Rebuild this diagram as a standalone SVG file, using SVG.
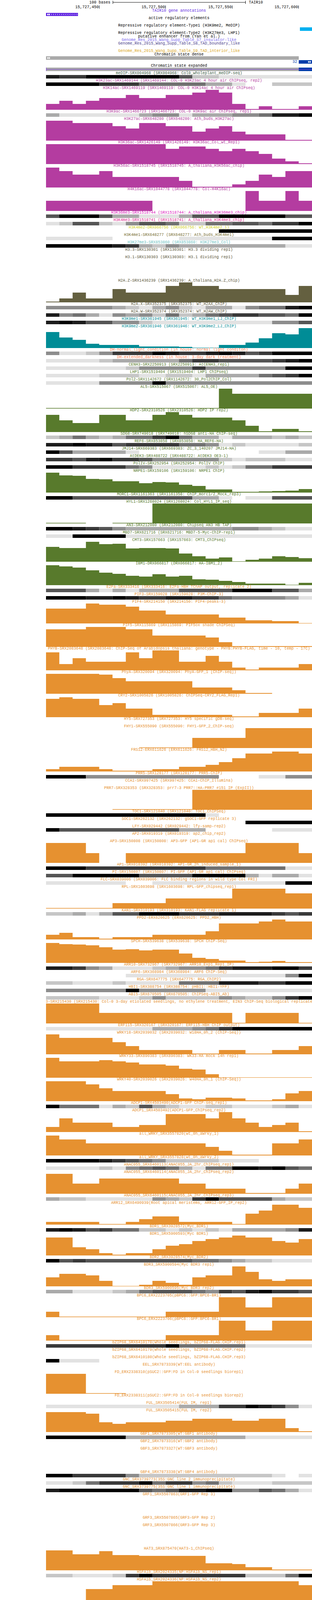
<svg xmlns="http://www.w3.org/2000/svg" width="800" height="5645" viewBox="0 0 800 5645">
<style>
text{font-family:"Liberation Mono","DejaVu Sans Mono",monospace;font-size:10px;text-anchor:middle}
.a1{fill:#e2e2e2}.a2{fill:#c6c6c6}.a3{fill:#aaa}.a4{fill:#8d8d8d}.a5{fill:#717171}.a6{fill:#555}.a7{fill:#393939}.a8{fill:#1c1c1c}.a9{fill:#000}
.k{fill:#000}.cmd{fill:#3d5c45}.cmag{fill:#b43ca0}.cp1{fill:#dc1ebe}.cp2{fill:#dc2890}.cyl{fill:#d2d21e}.cbr{fill:#786e32}.ctl{fill:#6ec3c3}.col{fill:#5a5538}.fol{fill:#646040}.cte{fill:#008c96}.cco{fill:#ff7f50}.cgr{fill:#587a2c}.cor{fill:#e69130}
.gene{fill:#5c1fe0}.blu{fill:#003caa}.wl{fill:none;stroke:#fff;stroke-width:1}.wf{fill:#fff}
</style>
<defs><clipPath id="dataclip"><rect x="118" y="0" width="682" height="5645"/></clipPath></defs>
<rect x="0" y="0" width="800" height="5645" fill="#fff"/>

<g id="ruler">
<text x="283" y="9" style="text-anchor:end" class="k">100 bases</text>
<path d="M289 6H629M289.5 2V10M629.5 2V10" stroke="#000" stroke-width="1" fill="none"/>
<text x="638" y="9" style="text-anchor:start" class="k">TAIR10</text>
<text x="253" y="21" style="text-anchor:end" class="k">15,727,450</text>
<text x="423" y="21" style="text-anchor:end" class="k">15,727,500</text>
<text x="594" y="21" style="text-anchor:end" class="k">15,727,550</text>
<text x="764" y="21" style="text-anchor:end" class="k">15,727,600</text>
<path d="M254.5 14V22M424.5 14V22M595.5 14V22M765.5 14V22" stroke="#000" stroke-width="1"/>
</g>

<g id="gene-annotations">
<text x="459" y="29.5" class="gene">TAIR10 gene annotations</text>
<rect x="118" y="33" width="82" height="8" class="gene"/>
<path class="wf" d="M124 34L120 37L124 40ZM128 34L124 37L128 40Z"/>
<path class="wl" d="M131 35l2 2l-2 2M136 35l2 2l-2 2M141 35l2 2l-2 2M146 35l2 2l-2 2M151 35l2 2l-2 2M156 35l2 2l-2 2M161 35l2 2l-2 2M166 35l2 2l-2 2M171 35l2 2l-2 2M176 35l2 2l-2 2M181 35l2 2l-2 2M186 35l2 2l-2 2M191 35l2 2l-2 2M196 35l2 2l-2 2"/>
</g>

<g id="regulatory-elements">
<text x="459" y="48.5" class="k">active regulatory elements</text>
<text x="459" y="67.5" class="k">Repressive regulatory element-Type1 (H3K9me2, MeDIP)</text>
<rect x="769" y="70" width="31" height="9" fill="#00b0f0"/>
<text x="459" y="86.5" class="k">Repressive regulatory element-Type2 (H3K27me3, LHP1)</text>
<text x="459" y="95.5" class="k">putative enhancer from (Yan et al.)</text>
<text x="459" y="104.5" fill="#7b68ee">Genome_Res_2015_Wang_Supp_Table_S7_insulator-like</text>
<text x="459" y="113.5" fill="#483d8b">Genome_Res_2015_Wang_Supp_Table_S8_TAD_boundary_like</text>
<text x="459" y="132.5" fill="#daa520">Genome_Res_2015_Wang_Supp_Table_S9_TAD_interior_like</text>
</g>

<g id="chromatin-state">
<text x="459" y="141.5" class="k">Chromatin state dense</text>
<rect x="118" y="144" width="648" height="9" fill="#aaa"/>
<path class="wf" d="M124 145.5L120 148.5L124 151.5ZM128 145.5L124 148.5L128 151.5Z"/>
<text x="762" y="161" style="text-anchor:end" class="blu">32</text>
<rect x="766" y="154" width="34" height="9" class="blu"/>
<path class="wf" d="M790 155.5L794 158.5L790 161.5ZM794 155.5L798 158.5L794 161.5Z"/>
<text x="459" y="170.5" class="k">Chromatin state expanded</text>
<rect x="118" y="173" width="648" height="9" fill="#aaa"/>
<rect x="766" y="173" width="34" height="9" class="blu"/>
<path d="M118 177.5H800M118.5 173V182" stroke="#7a3cd6" stroke-width="1"/>
</g>

<g id="t001"><text x="459" y="189.5" class="cmd">meDIP-SRX004968 (SRX004968: Col0_wholeplant_meDIP-seq)</text><g transform="translate(118,192) scale(34.1,1)"><rect x="0" width="1" height="9" class="a8"/><rect x="1" width="2" height="9" class="a7"/><rect x="3" width="7" height="9" class="a9"/><rect x="10" width="1" height="9" class="a6"/><rect x="11" width="2" height="9" class="a2"/><rect x="13" width="7" height="9" class="a1"/></g></g>
<g id="t002"><text x="459" y="208.5" class="cmag">H3K23ac-SRX1469144 (SRX1469144: COL-0 H3K23ac 4 hour air ChIPseq, rep2)</text><g transform="translate(118,211) scale(34.1,1)"><rect x="0" width="4" height="9" class="a9"/><rect x="4" width="3" height="9" class="a7"/><rect x="7" width="5" height="9" class="a5"/><rect x="12" width="2" height="9" class="a3"/><rect x="14" width="1" height="9" class="a1"/><rect x="17" width="3" height="9" class="a2"/></g></g>
<g id="t003"><text x="459" y="227.5" class="cmag">H3K14ac-SRX1469119 (SRX1469119: COL-0 H3K14ac 4 hour air ChIPseq)</text><path class="cmag" transform="translate(118,230) scale(34.1,1)" d="M0 51V36H1V28H2V36H3V28H4V21H6V13H7V21H9V13H11V7H12V0H13V7H14V36H15V49H16V42H17V49H19V42H20V51Z"/></g>
<g id="t004"><text x="459" y="287.5" class="cmag">H3K9ac-SRX1466723 (SRX1466723: COL-0 H3K9ac air ChIPseq, rep1)</text><g transform="translate(118,290) scale(34.1,1)"><rect x="0" width="1" height="9" class="a3"/><rect x="1" width="6" height="9" class="a1"/><rect x="7" width="1" height="9" class="a3"/><rect x="8" width="2" height="9" class="a4"/><rect x="10" width="1" height="9" class="a1"/><rect x="11" width="3" height="9" class="a3"/><rect x="14" width="2" height="9" class="a4"/><rect x="16" width="1" height="9" class="a5"/><rect x="17" width="2" height="9" class="a8"/><rect x="19" width="1" height="9" class="a9"/></g></g>
<g id="t005"><text x="459" y="306.5" class="cmag">H3K27ac-SRX648280 (SRX648280: Ath_buds_H3K27ac)</text><path class="cmag" transform="translate(118,309) scale(34.1,1)" d="M0 51V0H2V6H5V14H6V20H7V6H9V14H11V28H12V20H13V14H14V28H15V35H18V49H20V51Z"/></g>
<g id="t006"><text x="459" y="366.5" class="cmag">H3K36ac-SRX1426149 (SRX1426149: H3K36ac_Col_wt_Rep1)</text><path class="cmag" transform="translate(118,369) scale(34.1,1)" d="M0 51V0H9V12H10V6H12V12H13V18H14V12H15V18H16V25H17V37H18V44H19V49H20V51Z"/></g>
<g id="t007"><text x="459" y="426.5" class="cmag">H3K56ac-SRX1518745 (SRX1518745: A_thaliana_H3K56ac_chip)</text><path class="cmag" transform="translate(118,429) scale(34.1,1)" d="M0 51V0H1V9H2V18H4V9H5V24H10V34H11V49H14V43H15V34H16V18H17V24H18V9H20V51Z"/></g>
<g id="t008"><text x="459" y="486.5" class="cmag">H4K16ac-SRX1044778 (SRX1044778: Col-H4K16ac)</text><path class="cmag" transform="translate(118,489) scale(34.1,1)" d="M0 51V25H8V51H15V0H16V25H18V0H19V25H20V51Z"/></g>
<g id="t009"><text x="459" y="546.5" class="cp1">H3K36me3-SRX1518744 (SRX1518744: A_thaliana_H3K36me3_chip)</text><g transform="translate(118,549) scale(34.1,1)"><rect x="0" width="1" height="9" class="a6"/><rect x="1" width="3" height="9" class="a9"/><rect x="4" width="1" height="9" class="a6"/><rect x="5" width="2" height="9" class="a3"/><rect x="7" width="3" height="9" class="a1"/><rect x="10" width="1" height="9" class="a3"/><rect x="11" width="2" height="9" class="a6"/><rect x="13" width="5" height="9" class="a9"/><rect x="18" width="2" height="9" class="a6"/></g></g>
<g id="t010"><text x="459" y="565.5" class="cp2">H3K4me3-SRX1518741 (SRX1518741: A_thaliana_H3K4me3_chip)</text><g transform="translate(118,568) scale(34.1,1)"><rect x="0" width="1" height="9" class="a1"/><rect x="1" width="1" height="9" class="a2"/><rect x="2" width="2" height="9" class="a6"/><rect x="4" width="1" height="9" class="a2"/><rect x="5" width="1" height="9" class="a1"/><rect x="6" width="1" height="9" class="a4"/><rect x="7" width="2" height="9" class="a6"/><rect x="9" width="1" height="9" class="a5"/><rect x="10" width="2" height="9" class="a2"/><rect x="12" width="2" height="9" class="a5"/><rect x="14" width="2" height="9" class="a6"/><rect x="16" width="1" height="9" class="a5"/><rect x="17" width="2" height="9" class="a7"/><rect x="19" width="1" height="9" class="a9"/></g></g>
<g id="t011"><text x="459" y="584.5" class="cyl">H3K4me2-DRX066756 (DRX066756: WT_H3K4me2_1)</text><g transform="translate(118,587) scale(34.1,1)"><rect x="13" width="7" height="9" class="a9"/></g></g>
<g id="t012"><text x="459" y="603.5" class="cbr">H3K4me1-SRX648277 (SRX648277: Ath_buds_H3K4me1)</text><g transform="translate(118,606) scale(34.1,1)"><rect x="0" width="5" height="9" class="a1"/><rect x="10" width="7" height="9" class="a1"/><rect x="17" width="3" height="9" class="a9"/></g></g>
<g id="t013"><text x="459" y="622.5" class="ctl">H3K27me3-SRX853860 (SRX853860: H3K27me3_Col)</text><g transform="translate(118,625) scale(34.1,1)"><rect x="0" width="5" height="9" class="a9"/><rect x="5" width="1" height="9" class="a8"/><rect x="6" width="1" height="9" class="a7"/><rect x="7" width="1" height="9" class="a3"/><rect x="8" width="1" height="9" class="a2"/><rect x="9" width="1" height="9" class="a4"/><rect x="10" width="8" height="9" class="a3"/><rect x="18" width="2" height="9" class="a1"/></g></g>
<g id="t014"><text x="459" y="641.5" class="col">H3.3-SRX130301 (SRX130301: H3.3 dividing rep1)</text></g>
<g id="t015"><text x="459" y="660.5" class="col">H3.1-SRX130303 (SRX130303: H3.1 dividing rep1)</text></g>
<g id="t016"><text x="459" y="720.5" class="col">H2A.Z-SRX1436239 (SRX1436239: A_thaliana_H2A.Z_chip)</text><path class="fol" transform="translate(118,723) scale(34.1,1)" d="M0 51V49H1V41H2V26H3V41H5V17H6V26H9V9H10V0H11V9H13V17H18V32H19V9H20V51Z"/></g>
<g id="t017"><text x="459" y="780.5" class="col">H2A.X-SRX352375 (SRX352375: WT_H2AX_ChIP)</text><g transform="translate(118,783) scale(34.1,1)"><rect x="0" width="5" height="9" class="a4"/><rect x="5" width="1" height="9" class="a3"/><rect x="6" width="1" height="9" class="a2"/><rect x="7" width="1" height="9" class="a1"/><rect x="8" width="1" height="9" class="a3"/><rect x="9" width="1" height="9" class="a4"/><rect x="10" width="1" height="9" class="a2"/><rect x="11" width="1" height="9" class="a1"/><rect x="12" width="2" height="9" class="a3"/><rect x="14" width="1" height="9" class="a1"/><rect x="15" width="1" height="9" class="a4"/><rect x="16" width="2" height="9" class="a5"/><rect x="18" width="1" height="9" class="a8"/><rect x="19" width="1" height="9" class="a9"/></g></g>
<g id="t018"><text x="459" y="799.5" class="col">H2A.W-SRX352374 (SRX352374: WT_H2AW_ChIP)</text><g transform="translate(118,802) scale(34.1,1)"><rect x="0" width="1" height="9" class="a8"/><rect x="1" width="1" height="9" class="a4"/><rect x="2" width="1" height="9" class="a5"/><rect x="3" width="1" height="9" class="a3"/><rect x="4" width="1" height="9" class="a1"/><rect x="5" width="1" height="9" class="a4"/><rect x="6" width="1" height="9" class="a3"/><rect x="7" width="1" height="9" class="a4"/><rect x="8" width="1" height="9" class="a2"/><rect x="9" width="1" height="9" class="a5"/><rect x="10" width="1" height="9" class="a2"/><rect x="11" width="1" height="9" class="a3"/><rect x="12" width="1" height="9" class="a5"/><rect x="13" width="1" height="9" class="a6"/><rect x="14" width="2" height="9" class="a7"/><rect x="16" width="2" height="9" class="a6"/><rect x="18" width="1" height="9" class="a5"/><rect x="19" width="1" height="9" class="a9"/></g></g>
<g id="t019"><text x="459" y="818.5" class="cte">H3K9me1-SRX361945 (SRX361945: WT_H3K9me1_LJ_ChIP)</text><g transform="translate(118,821) scale(34.1,1)"><rect x="0" width="1" height="9" class="a8"/><rect x="1" width="1" height="9" class="a9"/><rect x="2" width="1" height="9" class="a8"/><rect x="3" width="2" height="9" class="a6"/><rect x="5" width="2" height="9" class="a4"/><rect x="7" width="1" height="9" class="a2"/><rect x="8" width="9" height="9" class="a1"/><rect x="17" width="2" height="9" class="a4"/><rect x="19" width="1" height="9" class="a6"/></g></g>
<g id="t020"><text x="459" y="837.5" class="cte">H3K9me2-SRX361946 (SRX361946: WT_H3K9me2_LJ_ChIP)</text><path class="cte" transform="translate(118,840) scale(34.1,1)" d="M0 51V10H1V24H2V30H3V40H4V43H7V47H10V48H11V50H13V43H15V37H16V26H17V13H18V16H19V0H20V51Z"/></g>
<g id="t021"><text x="459" y="897.5" class="cco">DH-normal_light_condition (in house: normal light conditon)</text><g transform="translate(118,900) scale(34.1,1)"><rect x="0" width="1" height="9" class="a4"/><rect x="1" width="2" height="9" class="a1"/><rect x="3" width="1" height="9" class="a2"/><rect x="4" width="1" height="9" class="a4"/><rect x="5" width="3" height="9" class="a7"/><rect x="8" width="1" height="9" class="a9"/><rect x="9" width="1" height="9" class="a8"/><rect x="10" width="2" height="9" class="a7"/><rect x="12" width="1" height="9" class="a8"/><rect x="13" width="1" height="9" class="a9"/><rect x="14" width="1" height="9" class="a8"/><rect x="15" width="1" height="9" class="a6"/><rect x="16" width="1" height="9" class="a7"/><rect x="17" width="3" height="9" class="a9"/></g></g>
<g id="t022"><text x="459" y="916.5" class="cco">DH-extended_darkness (in house: 3-day dark treatment)</text><g transform="translate(118,919) scale(34.1,1)"><rect x="0" width="4" height="9" class="a1"/><rect x="4" width="1" height="9" class="a2"/><rect x="5" width="5" height="9" class="a3"/><rect x="10" width="1" height="9" class="a5"/><rect x="11" width="2" height="9" class="a7"/><rect x="13" width="4" height="9" class="a6"/><rect x="17" width="1" height="9" class="a7"/><rect x="18" width="1" height="9" class="a8"/><rect x="19" width="1" height="9" class="a9"/></g></g>
<g id="t023"><text x="459" y="935.5" class="cgr">CENH3-SRX2250913 (SRX2250913: AtCENH3_rep1)</text><g transform="translate(118,938) scale(34.1,1)"><rect x="0" width="6" height="9" class="a1"/><rect x="6" width="1" height="9" class="a2"/><rect x="7" width="4" height="9" class="a4"/><rect x="11" width="1" height="9" class="a7"/><rect x="12" width="6" height="9" class="a4"/><rect x="18" width="2" height="9" class="a9"/></g></g>
<g id="t024"><text x="459" y="954.5" class="cgr">LHP1-SRX1519404 (SRX1519404: LHP1 ChIPseq)</text><g transform="translate(118,957) scale(34.1,1)"><rect x="0" width="4" height="9" class="a1"/><rect x="4" width="3" height="9" class="a2"/><rect x="7" width="2" height="9" class="a1"/><rect x="9" width="2" height="9" class="a2"/><rect x="11" width="1" height="9" class="a1"/><rect x="12" width="4" height="9" class="a3"/><rect x="16" width="1" height="9" class="a5"/><rect x="17" width="1" height="9" class="a6"/><rect x="18" width="1" height="9" class="a7"/><rect x="19" width="1" height="9" class="a9"/></g></g>
<g id="t025"><text x="459" y="973.5" class="cgr">Pol2-SRX1142672 (SRX1142672: 30_Pol2ChIP_Col)</text><g transform="translate(118,976) scale(34.1,1)"><rect x="0" width="4" height="9" class="a1"/><rect x="4" width="4" height="9" class="a4"/><rect x="8" width="1" height="9" class="a9"/><rect x="9" width="11" height="9" class="a4"/></g></g>
<g id="t026"><text x="459" y="992.5" class="cgr">AL5-SRX515067 (SRX515067: AL5_OE)</text><path class="cgr" transform="translate(118,995) scale(34.1,1)" d="M0 51V49.5H13V0H14V13H20V51Z"/></g>
<g id="t027"><text x="459" y="1052.5" class="cgr">HDP2-SRX2310526 (SRX2310526: HDP2 IP rep2)</text><path class="cgr" transform="translate(118,1055) scale(34.1,1)" d="M0 51V7H1V21H2V28H4V7H6V21H8V7H9V0H10V7H11V14H14V21H15V35H16V49H17V43H19V49H20V51Z"/></g>
<g id="t028"><text x="459" y="1112.5" class="cgr">SDG8-SRX749018 (SRX749018: hSDG8 anti-HA ChIP-seq)</text><g transform="translate(118,1115) scale(34.1,1)"><rect x="0" width="1" height="9" class="a2"/><rect x="1" width="1" height="9" class="a3"/><rect x="2" width="1" height="9" class="a5"/><rect x="3" width="1" height="9" class="a3"/><rect x="4" width="1" height="9" class="a2"/><rect x="5" width="1" height="9" class="a3"/><rect x="6" width="2" height="9" class="a5"/><rect x="8" width="1" height="9" class="a7"/><rect x="9" width="1" height="9" class="a9"/><rect x="10" width="1" height="9" class="a5"/><rect x="11" width="2" height="9" class="a3"/><rect x="13" width="1" height="9" class="a1"/><rect x="14" width="3" height="9" class="a3"/><rect x="17" width="1" height="9" class="a2"/><rect x="18" width="1" height="9" class="a3"/><rect x="19" width="1" height="9" class="a2"/></g></g>
<g id="t029"><text x="459" y="1131.5" class="cgr">REF6-SRX853858 (SRX853858: HA_REF6-HA)</text><g transform="translate(118,1134) scale(34.1,1)"><rect x="0" width="2" height="9" class="a8"/><rect x="2" width="1" height="9" class="a9"/><rect x="3" width="2" height="9" class="a8"/><rect x="5" width="1" height="9" class="a6"/><rect x="6" width="4" height="9" class="a7"/><rect x="10" width="2" height="9" class="a5"/><rect x="12" width="1" height="9" class="a4"/><rect x="13" width="1" height="9" class="a1"/><rect x="14" width="1" height="9" class="a2"/><rect x="15" width="4" height="9" class="a1"/><rect x="19" width="1" height="9" class="a2"/></g></g>
<g id="t030"><text x="459" y="1150.5" class="cgr">JMJ14-SRX669383 (SRX669383: ZC_3_140207 JMJ14-HA)</text><g transform="translate(118,1153) scale(34.1,1)"><rect x="0" width="1" height="9" class="a9"/><rect x="1" width="1" height="9" class="a6"/><rect x="2" width="4" height="9" class="a3"/><rect x="6" width="1" height="9" class="a1"/><rect x="16" width="2" height="9" class="a1"/><rect x="18" width="2" height="9" class="a3"/></g></g>
<g id="t031"><text x="459" y="1169.5" class="cgr">AtDEK3-SRX488722 (SRX488722: AtDEK3 OE3-1)</text><g transform="translate(118,1172) scale(34.1,1)"><rect x="0" width="2" height="9" class="a7"/><rect x="2" width="1" height="9" class="a6"/><rect x="3" width="1" height="9" class="a8"/><rect x="4" width="1" height="9" class="a9"/><rect x="5" width="2" height="9" class="a7"/><rect x="7" width="1" height="9" class="a6"/><rect x="8" width="5" height="9" class="a4"/><rect x="13" width="1" height="9" class="a2"/><rect x="14" width="1" height="9" class="a1"/><rect x="15" width="3" height="9" class="a2"/><rect x="18" width="2" height="9" class="a1"/></g></g>
<g id="t032"><text x="459" y="1188.5" class="cgr">PolIV-SRX252954 (SRX252954: PolIV ChIP)</text><g transform="translate(118,1191) scale(34.1,1)"><rect x="0" width="2" height="9" class="a9"/><rect x="2" width="4" height="9" class="a7"/><rect x="6" width="1" height="9" class="a5"/><rect x="7" width="1" height="9" class="a4"/><rect x="8" width="4" height="9" class="a1"/><rect x="12" width="1" height="9" class="a2"/><rect x="13" width="1" height="9" class="a1"/><rect x="14" width="1" height="9" class="a2"/><rect x="15" width="2" height="9" class="a5"/><rect x="17" width="3" height="9" class="a7"/></g></g>
<g id="t033"><text x="459" y="1207.5" class="cgr">NRPE1-SRX159106 (SRX159106: NRPE1 ChIP)</text><path class="cgr" transform="translate(118,1210) scale(34.1,1)" d="M0 51V0H1V7H2V8H3V16H4V17H5V22H7V27H8V24H9V25H10V31H11V34H12V43H14V49H16V48H17V47H18V46H19V42H20V51Z"/></g>
<g id="t034"><text x="459" y="1267.5" class="cgr">MORC1-SRX1161363 (SRX1161358: ChIP_morc1/2_Mock_rep3)</text><g transform="translate(118,1270) scale(34.1,1)"><rect x="0" width="2" height="9" class="a9"/><rect x="2" width="9" height="9" class="a6"/><rect x="11" width="2" height="9" class="a3"/><rect x="13" width="1" height="9" class="a1"/><rect x="15" width="2" height="9" class="a1"/><rect x="17" width="3" height="9" class="a6"/></g></g>
<g id="t035"><text x="459" y="1286.5" class="cgr">HYL1-SRX1268024 (SRX1268024: Col_HYL1_IP_seq)</text><path class="cgr" transform="translate(118,1289) scale(34.1,1)" d="M0 51V49.5H3V51H5V49.5H8V0H20V51Z"/></g>
<g id="t036"><text x="459" y="1346.5" class="cgr">AN3-SRX212080 (SRX212080: Chipseq AN3 HB TAP)</text><g transform="translate(118,1349) scale(34.1,1)"><rect x="0" width="2" height="9" class="a9"/><rect x="2" width="1" height="9" class="a8"/><rect x="3" width="1" height="9" class="a7"/><rect x="4" width="1" height="9" class="a6"/><rect x="5" width="1" height="9" class="a4"/><rect x="6" width="8" height="9" class="a3"/><rect x="14" width="2" height="9" class="a4"/><rect x="16" width="1" height="9" class="a3"/><rect x="17" width="1" height="9" class="a2"/><rect x="18" width="2" height="9" class="a1"/></g></g>
<g id="t037"><text x="459" y="1365.5" class="cgr">MBD7-SRX621716 (SRX621716: MBD7-5-Myc-ChIP-rep1)</text><g transform="translate(118,1368) scale(34.1,1)"><rect x="0" width="2" height="9" class="a1"/><rect x="2" width="4" height="9" class="a9"/><rect x="6" width="14" height="9" class="a1"/></g></g>
<g id="t038"><text x="459" y="1384.5" class="cgr">CMT3-SRX157663 (SRX157663: CMT3_ChIPseq)</text><path class="cgr" transform="translate(118,1387) scale(34.1,1)" d="M0 51V13H1V16H3V0H4V6H5V5H6V17H7V16H9V17H10V30H11V37H12V43H13V40H14V50H15V46H16V43H17V37H18V39H19V42H20V51Z"/></g>
<g id="t039"><text x="459" y="1444.5" class="cgr">IBM1-DRX066817 (DRX066817: HA-IBM1_2)</text><path class="cgr" transform="translate(118,1447) scale(34.1,1)" d="M0 51V0H1V3H2V6H3V13H4V19H5V22H6V27H7V29H8V23H9V29H10V27H11V36H12V37H13V40H14V43H15V47H18V50H19V45H20V51Z"/></g>
<g id="t040"><text x="459" y="1504.5" class="cor">E2Fa-SRX333416 (SRX333416: E2Fa-HBH TChAP output, replicate 2)</text><g transform="translate(118,1507) scale(34.1,1)"><rect x="0" width="3" height="9" class="a6"/><rect x="3" width="1" height="9" class="a3"/><rect x="4" width="1" height="9" class="a1"/><rect x="5" width="1" height="9" class="a3"/><rect x="6" width="1" height="9" class="a1"/><rect x="7" width="3" height="9" class="a3"/><rect x="10" width="4" height="9" class="a6"/><rect x="14" width="3" height="9" class="a9"/><rect x="17" width="2" height="9" class="a6"/><rect x="19" width="1" height="9" class="a3"/></g></g>
<g id="t041"><text x="459" y="1523.5" class="cor">PIF3-SRX159028 (SRX159028: P3M-ChIP-3)</text><g transform="translate(118,1526) scale(34.1,1)"><rect x="0" width="3" height="9" class="a9"/><rect x="3" width="2" height="9" class="a8"/><rect x="5" width="1" height="9" class="a9"/><rect x="6" width="1" height="9" class="a8"/><rect x="7" width="2" height="9" class="a7"/><rect x="9" width="2" height="9" class="a8"/><rect x="11" width="2" height="9" class="a7"/><rect x="13" width="1" height="9" class="a5"/><rect x="14" width="4" height="9" class="a4"/><rect x="18" width="1" height="9" class="a3"/><rect x="19" width="1" height="9" class="a1"/></g></g>
<g id="t042"><text x="459" y="1542.5" class="cor">PIF4-SRX214150 (SRX214150: PIF4-peaks-3)</text><path class="cor" transform="translate(118,1545) scale(34.1,1)" d="M0 51V13H3V0H4V3H6V8H7V18H9V28H13V36H15V43H17V45H19V50H20V51Z"/></g>
<g id="t043"><text x="459" y="1602.5" class="cor">PIF5-SRX115869 (SRX115869: PIF5ox shade ChIPSeq)</text><path class="cor" transform="translate(118,1605) scale(34.1,1)" d="M0 51V6H3V0H6V6H8V22H12V27H13V39H14V49H20V51Z"/></g>
<g id="t044"><text x="459" y="1662.5" class="cor">PHYB-SRX2083648 (SRX2083648: ChIP-Seq of Arabidopsis thaliana: genotype - PHYB:PHYB-FLAG, time - 10, temp - 17C)</text><path class="cor" transform="translate(118,1665) scale(34.1,1)" d="M0 51V5H1V35H2V20H3V29H6V5H7V20H8V0H10V29H12V14H13V29H14V44H15V49H16V44H19V35H20V51Z"/></g>
<g id="t045"><text x="459" y="1722.5" class="cor">PhyA-SRX320094 (SRX320094: PhyA-GFP_1 [ChIP-seq])</text><path class="cor" transform="translate(118,1725) scale(34.1,1)" d="M0 51V0H4V2H5V11H6V19H11V35H14V42H15V49H17V51Z"/></g>
<g id="t046"><text x="459" y="1782.5" class="cor">CRY2-SRX1005826 (SRX1005826: ChIPSeq-CRY2_FLAG_Rep1)</text><path class="cor" transform="translate(118,1785) scale(34.1,1)" d="M0 51V4H1V0H2V4H4V20H5V15H6V29H8V45H14V49H16V40H19V29H20V51Z"/></g>
<g id="t047"><text x="459" y="1842.5" class="cor">HY5-SRX727353 (SRX727353: HY5 specific gDB-seq)</text></g>
<g id="t048"><text x="459" y="1861.5" class="cor">FHY1-SRX555090 (SRX555090: FHY1-GFP_2_ChIP-seq)</text><path class="cor" transform="translate(118,1864) scale(34.1,1)" d="M0 51H7V49.5H11V25H15V0H20V51Z"/></g>
<g id="t049"><text x="459" y="1921.5" class="cor">FRS12-ERX611626 (ERX611626: FRS12_HBH_N2)</text><path class="cor" transform="translate(118,1924) scale(34.1,1)" d="M0 51V45H1V39H4V45H5V49H8V45H10V39H12V34H13V27H14V17H15V5H17V0H19V5H20V51Z"/></g>
<g id="t050"><text x="459" y="1981.5" class="cor">PRR5-SRX128177 (SRX128177: PRR5-ChIP)</text><g transform="translate(118,1984) scale(34.1,1)"><rect x="0" width="3" height="9" class="a9"/><rect x="3" width="10" height="9" class="a4"/><rect x="16" width="2" height="9" class="a1"/><rect x="18" width="2" height="9" class="a4"/></g></g>
<g id="t051"><text x="459" y="2000.5" class="cor">CCA1-SRX997425 (SRX997425: CCA1-ChIP_Illumina)</text></g>
<g id="t052"><text x="459" y="2019.5" class="cor">PRR7-SRX328353 (SRX328353: prr7-3 PRR7::HA-PRR7 #151 IP (ExpII))</text><path class="cor" transform="translate(118,2022) scale(34.1,1)" d="M0 51H5V49.5H11V0H20V51Z"/></g>
<g id="t053"><text x="459" y="2079.5" class="cor">TOC1-SRX121040 (SRX121040: TOC1_ChIPSeq)</text><g transform="translate(118,2082) scale(34.1,1)"><rect x="0" width="12" height="9" class="a9"/><rect x="12" width="1" height="9" class="a1"/></g></g>
<g id="t054"><text x="459" y="2098.5" class="cor">SOC1-SRX262132 (SRX262132: gSOC1-GFP replicate 3)</text><g transform="translate(118,2101) scale(34.1,1)"><rect x="15" width="5" height="9" class="a9"/></g></g>
<g id="t055"><text x="459" y="2117.5" class="cor">LFY-SRX029442 (SRX029442: lfy-samp-rep2)</text><g transform="translate(118,2120) scale(34.1,1)"><rect x="0" width="1" height="9" class="a9"/><rect x="1" width="9" height="9" class="a6"/><rect x="10" width="2" height="9" class="a3"/><rect x="17" width="3" height="9" class="a1"/></g></g>
<g id="t056"><text x="459" y="2136.5" class="cor">AP2-SRX019319 (SRX019319: ap2_chip_rep2)</text></g>
<g id="t057"><text x="459" y="2155.5" class="cor">AP3-SRX150808 (SRX150808: AP3-GFP (AP1-GR ap1 cal) ChIPseq)</text><path class="cor" transform="translate(118,2158) scale(34.1,1)" d="M0 51V0H3V26H4V51H6V26H15V0H19V26H20V51Z"/></g>
<g id="t058"><text x="459" y="2215.5" class="cor">AP1-SRX018392 (SRX018392: AP1-GR_2h_induced_sample_1)</text><g transform="translate(118,2218) scale(34.1,1)"><rect x="0" width="3" height="9" class="a9"/><rect x="3" width="9" height="9" class="a7"/><rect x="12" width="6" height="9" class="a5"/><rect x="18" width="2" height="9" class="a1"/></g></g>
<g id="t059"><text x="459" y="2234.5" class="cor">PI-SRX150807 (SRX150807: PI-GFP (AP1-GR ap1 cal) ChIPseq)</text><g transform="translate(118,2237) scale(34.1,1)"><rect x="0" width="2" height="9" class="a6"/><rect x="2" width="5" height="9" class="a9"/><rect x="7" width="4" height="9" class="a6"/><rect x="11" width="4" height="9" class="a9"/><rect x="15" width="1" height="9" class="a3"/><rect x="16" width="1" height="9" class="a1"/><rect x="17" width="2" height="9" class="a3"/><rect x="19" width="1" height="9" class="a1"/></g></g>
<g id="t060"><text x="459" y="2253.5" class="cor">FLC-SRX039006 (SRX039006: FLC binding regions in wild type Col FRI)</text><g transform="translate(118,2256) scale(34.1,1)"><rect x="0" width="6" height="9" class="a1"/><rect x="8" width="10" height="9" class="a1"/><rect x="18" width="2" height="9" class="a9"/></g></g>
<g id="t061"><text x="459" y="2272.5" class="cor">RPL-SRX1603698 (SRX1603698: RPL-GFP_chipseq_rep1)</text><path class="cor" transform="translate(118,2275) scale(34.1,1)" d="M0 51V49.5H5V37H9V25H14V0H18V12H20V51Z"/></g>
<g id="t062"><text x="459" y="2332.5" class="cor">KAN1-SRX310193 (SRX310193: KAN1-FLAG replicate 1)</text><g transform="translate(118,2335) scale(34.1,1)"><rect x="0" width="2" height="9" class="a2"/><rect x="2" width="1" height="9" class="a3"/><rect x="3" width="1" height="9" class="a1"/><rect x="4" width="1" height="9" class="a3"/><rect x="5" width="2" height="9" class="a6"/><rect x="7" width="3" height="9" class="a9"/><rect x="10" width="3" height="9" class="a7"/><rect x="13" width="4" height="9" class="a8"/><rect x="17" width="1" height="9" class="a7"/><rect x="18" width="1" height="9" class="a6"/><rect x="19" width="1" height="9" class="a7"/></g></g>
<g id="t063"><text x="459" y="2351.5" class="cor">PPD2-ERX620625 (ERX620625: PPD2_HBH)</text><path class="cor" transform="translate(118,2354) scale(34.1,1)" d="M0 51V39H1V34H2V45H4V49H5V45H8V39H12V30H13V10H16V5H17V0H18V5H20V51Z"/></g>
<g id="t064"><text x="459" y="2411.5" class="cor">SPCH-SRX539638 (SRX539638: SPCH ChIP-Seq)</text><path class="cor" transform="translate(118,2414) scale(34.1,1)" d="M0 51V0H1V3H2V4H3V6H4V11H5V17H6V16H7V19H8V17H10V27H11V38H12V41H13V45H15V49H16V48H17V46H18V49H20V51Z"/></g>
<g id="t065"><text x="459" y="2471.5" class="cor">ARR10-SRX732967 (SRX732967: ARR10_Exp1_Rep1_IP)</text><g transform="translate(118,2474) scale(34.1,1)"><rect x="0" width="2" height="9" class="a8"/><rect x="2" width="1" height="9" class="a7"/><rect x="3" width="1" height="9" class="a4"/><rect x="4" width="1" height="9" class="a3"/><rect x="5" width="3" height="9" class="a1"/><rect x="8" width="1" height="9" class="a2"/><rect x="9" width="1" height="9" class="a3"/><rect x="10" width="2" height="9" class="a4"/><rect x="12" width="1" height="9" class="a5"/><rect x="13" width="1" height="9" class="a7"/><rect x="14" width="3" height="9" class="a8"/><rect x="17" width="2" height="9" class="a9"/><rect x="19" width="1" height="9" class="a7"/></g></g>
<g id="t066"><text x="459" y="2490.5" class="cor">ARF6-SRX368984 (SRX368984: ARF6 ChIP-Seq)</text><g transform="translate(118,2493) scale(34.1,1)"><rect x="6" width="12" height="9" class="a1"/><rect x="18" width="1" height="9" class="a4"/><rect x="19" width="1" height="9" class="a9"/></g></g>
<g id="t067"><text x="459" y="2509.5" class="cor">RGA-SRX647775 (SRX647775: RGA_ChIP2)</text><g transform="translate(118,2512) scale(34.1,1)"><rect x="0" width="2" height="9" class="a2"/><rect x="2" width="3" height="9" class="a1"/><rect x="5" width="1" height="9" class="a2"/><rect x="6" width="4" height="9" class="a1"/><rect x="10" width="3" height="9" class="a5"/><rect x="13" width="3" height="9" class="a8"/><rect x="16" width="2" height="9" class="a7"/><rect x="18" width="2" height="9" class="a9"/></g></g>
<g id="t068"><text x="459" y="2528.5" class="cor">HBI1-SRX388754 (SRX388754: pHBI1::HBI1-YFP)</text><g transform="translate(118,2531) scale(34.1,1)"><rect x="0" width="6" height="9" class="a4"/><rect x="6" width="1" height="9" class="a9"/><rect x="7" width="5" height="9" class="a4"/><rect x="12" width="8" height="9" class="a1"/></g></g>
<g id="t069"><text x="459" y="2547.5" class="cor">ABI5-SRX670505 (SRX670505: ChIPSeq-ABI5_Ab)</text><g transform="translate(118,2550) scale(34.1,1)"><rect x="0" width="4" height="9" class="a2"/><rect x="4" width="3" height="9" class="a1"/><rect x="7" width="1" height="9" class="a2"/><rect x="8" width="1" height="9" class="a4"/><rect x="9" width="4" height="9" class="a2"/><rect x="13" width="1" height="9" class="a4"/><rect x="14" width="1" height="9" class="a3"/><rect x="15" width="2" height="9" class="a2"/><rect x="17" width="1" height="9" class="a4"/><rect x="18" width="1" height="9" class="a7"/><rect x="19" width="1" height="9" class="a9"/></g></g>
<g id="t070"><text x="459" y="2566.5" class="cor" clip-path="url(#dataclip)">EIN3-SRX215430 (SRX215430: Col-0 3-day etiolated seedlings, no ethylene treatment, EIN3 ChIP-Seq biological replicate 1)</text><path class="cor" transform="translate(118,2569) scale(34.1,1)" d="M0 51V0H4V24H14V49.5H15V24H19V49.5H20V51Z"/></g>
<g id="t071"><text x="459" y="2626.5" class="cor">ERF115-SRX320167 (SRX320167: ERF115-HBH ChIP output)</text><g transform="translate(118,2629) scale(34.1,1)"><rect x="0" width="8" height="9" class="a1"/><rect x="8" width="3" height="9" class="a3"/><rect x="11" width="1" height="9" class="a4"/><rect x="12" width="1" height="9" class="a5"/><rect x="13" width="1" height="9" class="a7"/><rect x="14" width="6" height="9" class="a9"/></g></g>
<g id="t072"><text x="459" y="2645.5" class="cor">WRKY18-SRX2039032 (SRX2039032: W18HA_0h_2 (ChIP-Seq))</text><path class="cor" transform="translate(118,2648) scale(34.1,1)" d="M0 51V0H1V9H5V20H6V30H7V40H11V49H13V40H15V49H17V40H19V30H20V51Z"/></g>
<g id="t073"><text x="459" y="2705.5" class="cor">WRKY33-SRX890383 (SRX890383: WK33-HA mock 14h rep1)</text><path class="cor" transform="translate(118,2708) scale(34.1,1)" d="M0 51V0H1V9H4V6H5V9H6V12H7V17H9V20H10V28H11V30H12V42H13V50H20V51Z"/></g>
<g id="t074"><text x="459" y="2765.5" class="cor">WRKY40-SRX2039026 (SRX2039026: W40HA_0h_1 (ChIP-Seq))</text><path class="cor" transform="translate(118,2768) scale(34.1,1)" d="M0 51V0H3V8H4V18H5V25H9V33H10V44H11V46H12V42H14V44H15V49H17V46H18V31H19V25H20V51Z"/></g>
<g id="t075"><text x="459" y="2825.5" class="cor">ADCP1-SRX4503490(ADCP1-GFP ChIP-seq_rep1)</text><g transform="translate(118,2828) scale(34.1,1)"><rect x="0" width="1" height="9" class="a9"/><rect x="1" width="3" height="9" class="a5"/><rect x="4" width="1" height="9" class="a1"/><rect x="5" width="1" height="9" class="a3"/><rect x="6" width="1" height="9" class="a2"/><rect x="7" width="1" height="9" class="a6"/><rect x="8" width="1" height="9" class="a3"/><rect x="9" width="1" height="9" class="a2"/><rect x="10" width="2" height="9" class="a1"/><rect x="12" width="2" height="9" class="a2"/><rect x="14" width="3" height="9" class="a1"/><rect x="17" width="1" height="9" class="a2"/><rect x="18" width="1" height="9" class="a3"/><rect x="19" width="1" height="9" class="a1"/></g></g>
<g id="t076"><text x="459" y="2844.5" class="cor">ADCP1_SRX4503492(ADCP1-GFP_ChIPseq_rep2)</text><path class="cor" transform="translate(118,2847) scale(34.1,1)" d="M0 51V38H1V16H2V27H5V38H7V33H9V5H12V16H13V0H14V16H15V27H16V38H17V33H18V27H19V49H20V51Z"/></g>
<g id="t077"><text x="459" y="2904.5" class="cor">all_WRKY_SRX3557820(wt_0h_aWrky_1)</text><path class="cor" transform="translate(118,2907) scale(34.1,1)" d="M0 51V0H1V10H3V20H12V29H13V39H14V49H17V20H19V10H20V51Z"/></g>
<g id="t078"><text x="459" y="2964.5" class="cor">all_WRKY_SRX3557828(wt_0h_aWrky_2)</text><g transform="translate(118,2967) scale(34.1,1)"><rect x="0" width="4" height="9" class="a9"/><rect x="4" width="1" height="9" class="a8"/><rect x="5" width="1" height="9" class="a7"/><rect x="6" width="1" height="9" class="a6"/><rect x="7" width="1" height="9" class="a5"/><rect x="8" width="1" height="9" class="a4"/><rect x="9" width="4" height="9" class="a2"/><rect x="13" width="3" height="9" class="a1"/></g></g>
<g id="t079"><text x="459" y="2983.5" class="cor">ANAC055_SRX6460113(ANAC055_JA_2hr_ChIPseq_rep1)</text><g transform="translate(118,2986) scale(34.1,1)"><rect x="0" width="4" height="9" class="a1"/><rect x="4" width="1" height="9" class="a2"/><rect x="5" width="1" height="9" class="a1"/><rect x="6" width="1" height="9" class="a4"/><rect x="7" width="1" height="9" class="a5"/><rect x="8" width="1" height="9" class="a6"/><rect x="9" width="1" height="9" class="a5"/><rect x="10" width="1" height="9" class="a3"/><rect x="11" width="1" height="9" class="a1"/><rect x="12" width="2" height="9" class="a5"/><rect x="14" width="2" height="9" class="a9"/><rect x="16" width="1" height="9" class="a8"/><rect x="17" width="1" height="9" class="a9"/><rect x="18" width="1" height="9" class="a6"/><rect x="19" width="1" height="9" class="a5"/></g></g>
<g id="t080"><text x="459" y="3002.5" class="cor">ANAC055_SRX6460114(ANAC055_JA_2hr_ChIPseq_rep2)</text><path class="cor" transform="translate(118,3005) scale(34.1,1)" d="M0 51V0H2V25H4V12H10V25H12V38H15V49H18V38H19V25H20V51Z"/></g>
<g id="t081"><text x="459" y="3062.5" class="cor">ANAC055_SRX6460115(ANAC055_JA_2hr_ChIPseq_rep3)</text><g transform="translate(118,3065) scale(34.1,1)"><rect x="0" width="1" height="9" class="a3"/><rect x="1" width="2" height="9" class="a2"/><rect x="3" width="5" height="9" class="a1"/><rect x="8" width="1" height="9" class="a4"/><rect x="9" width="1" height="9" class="a3"/><rect x="10" width="1" height="9" class="a2"/><rect x="11" width="1" height="9" class="a7"/><rect x="12" width="1" height="9" class="a9"/><rect x="13" width="4" height="9" class="a6"/><rect x="17" width="1" height="9" class="a3"/><rect x="18" width="2" height="9" class="a2"/></g></g>
<g id="t082"><text x="459" y="3081.5" class="cor">ARR12_SRX6490939(Root apical meristems, ARR12-GFP_IP_rep2)</text><path class="cor" transform="translate(118,3084) scale(34.1,1)" d="M0 51V44H4V49.5H6V44H7V37H8V30H10V44H14V49.5H15V23H16V15H17V0H19V8H20V51Z"/></g>
<g id="t083"><text x="459" y="3141.5" class="cor">BDR1_SRX3928572(Myc_BDR1)</text><g transform="translate(118,3144) scale(34.1,1)"><rect x="0" width="1" height="9" class="a8"/><rect x="1" width="1" height="9" class="a9"/><rect x="2" width="1" height="9" class="a8"/><rect x="3" width="1" height="9" class="a6"/><rect x="4" width="1" height="9" class="a7"/><rect x="5" width="2" height="9" class="a5"/><rect x="7" width="2" height="9" class="a2"/><rect x="9" width="1" height="9" class="a1"/><rect x="10" width="1" height="9" class="a2"/><rect x="11" width="1" height="9" class="a1"/><rect x="12" width="1" height="9" class="a2"/><rect x="13" width="1" height="9" class="a1"/><rect x="14" width="4" height="9" class="a3"/><rect x="18" width="1" height="9" class="a4"/><rect x="19" width="1" height="9" class="a8"/></g></g>
<g id="t084"><text x="459" y="3160.5" class="cor">BDR1_SRX5900593(Myc BDR1)</text><path class="cor" transform="translate(118,3163) scale(34.1,1)" d="M0 51V5H2V30H3V35H4V45H5V49H6V45H8V35H9V26H10V22H11V14H12V9H13V5H14V0H15V5H17V14H18V18H19V9H20V51Z"/></g>
<g id="t085"><text x="459" y="3220.5" class="cor">BDR2_SRX3928574(Myc_BDR2)</text><g transform="translate(118,3223) scale(34.1,1)"><rect x="0" width="1" height="9" class="a9"/><rect x="1" width="1" height="9" class="a6"/><rect x="2" width="1" height="9" class="a7"/><rect x="3" width="8" height="9" class="a6"/><rect x="11" width="2" height="9" class="a5"/><rect x="13" width="1" height="9" class="a4"/><rect x="14" width="1" height="9" class="a3"/><rect x="15" width="2" height="9" class="a2"/><rect x="17" width="3" height="9" class="a1"/></g></g>
<g id="t086"><text x="459" y="3239.5" class="cor">BDR3_SRX5900594(Myc BDR3 rep1)</text><path class="cor" transform="translate(118,3242) scale(34.1,1)" d="M0 51V28H1V19H3V23H4V37H5V50H7V47H8V37H9V42H10V47H11V28H12V23H14V0H15V14H16V33H17V37H18V33H20V51Z"/></g>
<g id="t087"><text x="459" y="3299.5" class="cor">BDR3_SRX5900595(Myc BDR3 rep2)</text><g transform="translate(118,3302) scale(34.1,1)"><rect x="0" width="2" height="9" class="a3"/><rect x="2" width="3" height="9" class="a1"/><rect x="5" width="1" height="9" class="a2"/><rect x="6" width="1" height="9" class="a3"/><rect x="7" width="1" height="9" class="a5"/><rect x="8" width="3" height="9" class="a6"/><rect x="11" width="1" height="9" class="a5"/><rect x="12" width="1" height="9" class="a4"/><rect x="13" width="1" height="9" class="a7"/><rect x="14" width="1" height="9" class="a6"/><rect x="15" width="1" height="9" class="a8"/><rect x="16" width="1" height="9" class="a9"/><rect x="17" width="2" height="9" class="a7"/><rect x="19" width="1" height="9" class="a6"/></g></g>
<g id="t088"><text x="459" y="3318.5" class="cor">BPC6_ERX2223705(pBPC6::GFP:BPC6-BR1)</text><path class="cor" transform="translate(118,3321) scale(34.1,1)" d="M0 51V37H1V49.5H9V37H13V0H15V26H17V0H20V51Z"/></g>
<g id="t089"><text x="459" y="3378.5" class="cor">BPC6_ERX2223706(pBPC6::GFP:BPC6-BR1)</text><path class="cor" transform="translate(118,3381) scale(34.1,1)" d="M0 51V37H1V49.5H9V37H13V0H15V25H17V0H20V51Z"/></g>
<g id="t090"><text x="459" y="3438.5" class="cor">bZIP68_SRX6410178(Whole seedlings, bZIP68-FLAG.CHIP.rep1)</text><g transform="translate(118,3441) scale(34.1,1)"><rect x="0" width="9" height="9" class="a7"/><rect x="9" width="1" height="9" class="a9"/><rect x="10" width="5" height="9" class="a5"/><rect x="15" width="5" height="9" class="a1"/></g></g>
<g id="t091"><text x="459" y="3457.5" class="cor">bZIP68_SRX6410179(Whole seedlings, bZIP68-FLAG.CHIP.rep2)</text></g>
<g id="t092"><text x="459" y="3476.5" class="cor">bZIP68_SRX6410180(Whole seedlings, bZIP68-FLAG.CHIP.rep3)</text><g transform="translate(118,3479) scale(34.1,1)"><rect x="0" width="1" height="9" class="a9"/><rect x="1" width="3" height="9" class="a1"/></g></g>
<g id="t093"><text x="459" y="3495.5" class="cor">EEL_SRX7873339(WT:EEL antibody)</text></g>
<g id="t094"><text x="459" y="3514.5" class="cor">FD_ERX2338310(pSUC2::GFP:FD in Col-0 seedlings biorep1)</text><path class="cor" transform="translate(118,3517) scale(34.1,1)" d="M0 51V0H3V49.5H6V51Z"/></g>
<g id="t095"><text x="459" y="3574.5" class="cor">FD_ERX2338311(pSUC2::GFP:FD in Col-0 seedlings biorep2)</text></g>
<g id="t096"><text x="459" y="3593.5" class="cor">FUL_SRX3505414(FUL IM, rep1)</text><g transform="translate(118,3596) scale(34.1,1)"><rect x="0" width="10" height="9" class="a1"/><rect x="10" width="3" height="9" class="a3"/><rect x="13" width="2" height="9" class="a7"/><rect x="15" width="1" height="9" class="a9"/><rect x="16" width="1" height="9" class="a8"/><rect x="17" width="1" height="9" class="a7"/><rect x="18" width="1" height="9" class="a4"/><rect x="19" width="1" height="9" class="a1"/></g></g>
<g id="t097"><text x="459" y="3612.5" class="cor">FUL_SRX3505415(FUL IM, rep2)</text><path class="cor" transform="translate(118,3615) scale(34.1,1)" d="M0 51V0H3V4H4V26H5V30H6V26H9V22H11V17H14V22H16V17H18V41H19V49H20V51Z"/></g>
<g id="t098"><text x="459" y="3672.5" class="cor">GBF1_SRX7873305(WT:GBF1 antibody)</text><g transform="translate(118,3675) scale(34.1,1)"><rect x="0" width="6" height="9" class="a9"/><rect x="6" width="9" height="9" class="a3"/><rect x="15" width="5" height="9" class="a1"/></g></g>
<g id="t099"><text x="459" y="3691.5" class="cor">GBF2_SRX7873316(WT:GBF2 antibody)</text></g>
<g id="t100"><text x="459" y="3710.5" class="cor">GBF3_SRX7873327(WT:GBF3 antibody)</text></g>
<g id="t101"><text x="459" y="3770.5" class="cor">GBF4_SRX7873338(WT:GBF4 antibody)</text><g transform="translate(118,3773) scale(34.1,1)"><rect x="0" width="2" height="9" class="a9"/><rect x="2" width="4" height="9" class="a7"/><rect x="6" width="1" height="9" class="a4"/><rect x="7" width="10" height="9" class="a2"/><rect x="17" width="1" height="9" class="a1"/><rect x="19" width="1" height="9" class="a1"/></g></g>
<g id="t102"><text x="459" y="3789.5" class="cor">GNC_SRX3739773(35S:GNC line 2 immunoprecipitate)</text><g transform="translate(118,3792) scale(34.1,1)"><rect x="0" width="2" height="9" class="a1"/><rect x="2" width="1" height="9" class="a2"/><rect x="3" width="1" height="9" class="a5"/><rect x="4" width="3" height="9" class="a7"/><rect x="7" width="1" height="9" class="a9"/><rect x="8" width="1" height="9" class="a5"/><rect x="9" width="2" height="9" class="a7"/><rect x="11" width="1" height="9" class="a4"/><rect x="12" width="1" height="9" class="a5"/><rect x="13" width="1" height="9" class="a2"/><rect x="14" width="3" height="9" class="a1"/><rect x="17" width="3" height="9" class="a2"/></g></g>
<g id="t103"><text x="459" y="3808.5" class="cor">GNC_SRX3739775(35S:GNC line 1 immunoprecipitate)</text><g transform="translate(118,3811) scale(34.1,1)"><rect x="0" width="1" height="9" class="a8"/><rect x="1" width="6" height="9" class="a9"/><rect x="7" width="1" height="9" class="a6"/><rect x="8" width="1" height="9" class="a5"/><rect x="9" width="1" height="9" class="a6"/><rect x="10" width="2" height="9" class="a8"/><rect x="12" width="2" height="9" class="a9"/><rect x="14" width="2" height="9" class="a4"/><rect x="16" width="1" height="9" class="a6"/><rect x="17" width="1" height="9" class="a5"/><rect x="18" width="1" height="9" class="a3"/><rect x="19" width="1" height="9" class="a1"/></g></g>
<g id="t104"><text x="459" y="3827.5" class="cor">GRF1_SRX5507863(GRF1-GFP Rep 3)</text></g>
<g id="t105"><text x="459" y="3887.5" class="cor">GRF3_SRX5507865(GRF3-GFP Rep 2)</text></g>
<g id="t106"><text x="459" y="3906.5" class="cor">GRF3_SRX5507866(GRF3-GFP Rep 3)</text></g>
<g id="t107"><text x="459" y="3966.5" class="cor">HAT3_SRX875470(HAT3-1_ChIPseq)</text><path class="cor" transform="translate(118,3969) scale(34.1,1)" d="M0 51V0H2V10H4V2H5V12H7V14H12V33H14V35H15V43H17V49H20V51Z"/></g>
<g id="t108"><text x="459" y="4026.5" class="cor">HSFA1b_SRX2024335(NP:HSFA1b_NS_rep1)</text><g transform="translate(118,4029) scale(34.1,1)"><rect x="0" width="2" height="9" class="a2"/><rect x="2" width="3" height="9" class="a1"/><rect x="5" width="1" height="9" class="a2"/><rect x="6" width="1" height="9" class="a7"/><rect x="7" width="1" height="9" class="a9"/><rect x="8" width="7" height="9" class="a7"/><rect x="15" width="3" height="9" class="a2"/><rect x="18" width="1" height="9" class="a5"/><rect x="19" width="1" height="9" class="a9"/></g></g>
<g id="t109"><text x="459" y="4045.5" class="cor">HSFA1b_SRX2024336(NP:HSFA1b_NS_rep2)</text><path class="cor" transform="translate(118,4048) scale(34.1,1)" d="M0 51V49.5H3V20H5V10H8V0H19V10H20V51Z"/></g>
<g id="t110"><text x="459" y="4105.5" class="cor">HSFA1b_SRX2024343(35S:HSFA1b_NS_rep1)</text><path class="cor" transform="translate(118,4108) scale(34.1,1)" d="M0 51V49H2V41H3V33H10V24H12V16H13V8H14V16H16V8H17V0H20V51Z"/></g>
<g id="t111"><text x="459" y="4165.5" class="cor">HSFA1b_SRX2024344(35S:HSFA1b_NS_rep2)</text><g transform="translate(118,4168) scale(34.1,1)"><rect x="0" width="10" height="9" class="a1"/><rect x="10" width="1" height="9" class="a3"/><rect x="11" width="4" height="9" class="a1"/><rect x="15" width="2" height="9" class="a4"/><rect x="17" width="1" height="9" class="a6"/><rect x="18" width="1" height="9" class="a7"/><rect x="19" width="1" height="9" class="a9"/></g></g>
<g id="t112"><text x="459" y="4184.5" class="cor">ICE1_SRX7719242(GFP-ICE1_ChIP)</text><g transform="translate(118,4187) scale(34.1,1)"><rect x="16" width="1" height="9" class="a1"/><rect x="17" width="1" height="9" class="a3"/><rect x="18" width="2" height="9" class="a9"/></g></g>
<g id="t113"><text x="459" y="4203.5" class="cor">IDD4_SRX4705001(IDD4-GFP_1_IP)</text><g transform="translate(118,4206) scale(34.1,1)"><rect x="0" width="1" height="9" class="a5"/><rect x="1" width="1" height="9" class="a3"/><rect x="2" width="1" height="9" class="a2"/><rect x="3" width="3" height="9" class="a3"/><rect x="6" width="2" height="9" class="a1"/><rect x="8" width="1" height="9" class="a2"/><rect x="9" width="2" height="9" class="a1"/><rect x="11" width="2" height="9" class="a3"/><rect x="13" width="1" height="9" class="a5"/><rect x="14" width="1" height="9" class="a6"/><rect x="15" width="1" height="9" class="a7"/><rect x="16" width="4" height="9" class="a9"/></g></g>
<g id="t114"><text x="459" y="4222.5" class="cor">IDD4_SRX4705002(IDD4-GFP_3_IP)</text><path class="cor" transform="translate(118,4225) scale(34.1,1)" d="M0 51V0H1V7H2V16H3V24H4V34H5V43H7V49H8V47H9V43H10V49H11V43H12V44H13V39H14V29H18V19H19V14H20V51Z"/></g>
<g id="t115"><text x="459" y="4282.5" class="cor">IDD4_SRX4705003(IDD4-GFP_4_IP)</text><path class="cor" transform="translate(118,4285) scale(34.1,1)" d="M0 51V18H3V41H4V49.5H6V41H8V37H11V41H13V0H14V45H17V27H18V18H20V51Z"/></g>
<g id="t116"><text x="459" y="4342.5" class="cor">LEC1_SRX3638219(developing seeds_LEC1_ChIP rep1)</text><g transform="translate(118,4345) scale(34.1,1)"><rect x="0" width="2" height="9" class="a9"/><rect x="2" width="3" height="9" class="a6"/><rect x="5" width="6" height="9" class="a3"/><rect x="11" width="6" height="9" class="a1"/><rect x="18" width="2" height="9" class="a1"/></g></g>
<g id="t117"><text x="459" y="4361.5" class="cor">LEC1_SRX3638221(developing seeds_LEC1_ChIP rep2)</text><g transform="translate(118,4364) scale(34.1,1)"><rect x="0" width="2" height="9" class="a3"/><rect x="2" width="1" height="9" class="a6"/><rect x="3" width="6" height="9" class="a9"/><rect x="9" width="2" height="9" class="a6"/><rect x="11" width="3" height="9" class="a3"/><rect x="14" width="1" height="9" class="a6"/><rect x="15" width="1" height="9" class="a3"/><rect x="16" width="2" height="9" class="a1"/><rect x="18" width="1" height="9" class="a6"/><rect x="19" width="1" height="9" class="a1"/></g></g>
<g id="t118"><text x="459" y="4380.5" class="cor">LHY_SRX3182010(LHY_IP)</text><g transform="translate(118,4383) scale(34.1,1)"><rect x="0" width="8" height="9" class="a9"/><rect x="8" width="6" height="9" class="a1"/></g></g>
<g id="t119"><text x="459" y="4399.5" class="cor">MED12_SRX7573312(MED12-FLAG_col_control_ChIPseq)</text><g transform="translate(118,4402) scale(34.1,1)"><rect x="0" width="1" height="9" class="a2"/><rect x="1" width="2" height="9" class="a5"/><rect x="3" width="2" height="9" class="a4"/><rect x="5" width="2" height="9" class="a2"/><rect x="7" width="2" height="9" class="a1"/><rect x="9" width="1" height="9" class="a2"/><rect x="10" width="1" height="9" class="a5"/><rect x="11" width="3" height="9" class="a4"/><rect x="14" width="1" height="9" class="a5"/><rect x="15" width="1" height="9" class="a7"/><rect x="16" width="3" height="9" class="a9"/><rect x="19" width="1" height="9" class="a7"/></g></g>
<g id="t120"><text x="459" y="4418.5" class="cor">MED12_SRX7573320(MED12-FLAG_rep1_ChIPseq)</text><g transform="translate(118,4421) scale(34.1,1)"><rect x="0" width="2" height="9" class="a9"/><rect x="2" width="1" height="9" class="a5"/><rect x="3" width="4" height="9" class="a4"/><rect x="7" width="5" height="9" class="a3"/><rect x="12" width="6" height="9" class="a1"/><rect x="18" width="1" height="9" class="a3"/><rect x="19" width="1" height="9" class="a1"/></g></g>
<g id="t121"><text x="459" y="4437.5" class="cor">MED12_SRX7573322(MED12-FLAG_rep2_ChIPseq)</text><path class="cor" transform="translate(118,4440) scale(34.1,1)" d="M0 51V31H1V15H2V31H6V49.5H8V15H12V0H13V31H15V15H19V31H20V51Z"/></g>
<g id="t122"><text x="459" y="4497.5" class="cor">MED25_SRX7445540(med25 ChIP-seq of arabidopsis)</text><g transform="translate(118,4500) scale(34.1,1)"><rect x="0" width="1" height="9" class="a3"/><rect x="1" width="3" height="9" class="a4"/><rect x="4" width="1" height="9" class="a3"/><rect x="5" width="1" height="9" class="a2"/><rect x="6" width="4" height="9" class="a4"/><rect x="10" width="1" height="9" class="a9"/><rect x="11" width="1" height="9" class="a6"/><rect x="12" width="3" height="9" class="a5"/><rect x="15" width="2" height="9" class="a2"/><rect x="17" width="3" height="9" class="a1"/></g></g>
<g id="t123"><text x="459" y="4516.5" class="cor">MYC2_SRX5982476(myc2_MYC2:MYC2_FLAG_untreated)</text><g transform="translate(118,4519) scale(34.1,1)"><rect x="0" width="1" height="9" class="a4"/><rect x="1" width="1" height="9" class="a2"/><rect x="2" width="1" height="9" class="a6"/><rect x="3" width="1" height="9" class="a7"/><rect x="4" width="1" height="9" class="a8"/><rect x="5" width="1" height="9" class="a5"/><rect x="6" width="1" height="9" class="a6"/><rect x="7" width="2" height="9" class="a5"/><rect x="9" width="2" height="9" class="a3"/><rect x="11" width="3" height="9" class="a1"/><rect x="14" width="3" height="9" class="a5"/><rect x="17" width="2" height="9" class="a9"/><rect x="19" width="1" height="9" class="a5"/></g></g>
<g id="t124"><text x="459" y="4535.5" class="cor">MYC2_SRX6460101(MYC2_JA_2hr_ChIPseq_rep1)</text><g transform="translate(118,4538) scale(34.1,1)"><rect x="0" width="1" height="9" class="a8"/><rect x="1" width="2" height="9" class="a9"/><rect x="3" width="3" height="9" class="a8"/><rect x="6" width="1" height="9" class="a7"/><rect x="7" width="1" height="9" class="a5"/><rect x="8" width="2" height="9" class="a4"/><rect x="10" width="5" height="9" class="a3"/><rect x="15" width="5" height="9" class="a1"/></g></g>
<g id="t125"><text x="459" y="4554.5" class="cor">MYC2_SRX6460102(MYC2_JA_2hr_ChIPseq_rep2)</text><g transform="translate(118,4557) scale(34.1,1)"><rect x="0" width="1" height="9" class="a1"/><rect x="1" width="1" height="9" class="a2"/><rect x="2" width="1" height="9" class="a5"/><rect x="3" width="1" height="9" class="a3"/><rect x="4" width="1" height="9" class="a2"/><rect x="5" width="2" height="9" class="a1"/><rect x="7" width="1" height="9" class="a2"/><rect x="8" width="2" height="9" class="a6"/><rect x="10" width="1" height="9" class="a7"/><rect x="11" width="2" height="9" class="a5"/><rect x="13" width="1" height="9" class="a7"/><rect x="14" width="1" height="9" class="a4"/><rect x="15" width="1" height="9" class="a5"/><rect x="16" width="1" height="9" class="a6"/><rect x="17" width="1" height="9" class="a7"/><rect x="18" width="2" height="9" class="a9"/></g></g>
<g id="t126"><text x="459" y="4573.5" class="cor">MYC2_SRX6460103(MYC2_JA_2hr_ChIPseq_rep3)</text><g transform="translate(118,4576) scale(34.1,1)"><rect x="0" width="3" height="9" class="a7"/><rect x="3" width="1" height="9" class="a9"/><rect x="4" width="1" height="9" class="a8"/><rect x="5" width="3" height="9" class="a9"/><rect x="8" width="1" height="9" class="a7"/><rect x="9" width="2" height="9" class="a8"/><rect x="11" width="1" height="9" class="a7"/><rect x="12" width="1" height="9" class="a8"/><rect x="13" width="1" height="9" class="a7"/><rect x="14" width="1" height="9" class="a6"/><rect x="15" width="1" height="9" class="a4"/><rect x="16" width="1" height="9" class="a3"/><rect x="17" width="1" height="9" class="a4"/><rect x="18" width="1" height="9" class="a3"/><rect x="19" width="1" height="9" class="a1"/></g></g>
<g id="t127"><text x="459" y="4592.5" class="cor">MYC2_SRX6460104(MYC2_JA_2hr_ChIPseq_rep4)</text><g transform="translate(118,4595) scale(34.1,1)"><rect x="0" width="2" height="9" class="a1"/><rect x="2" width="1" height="9" class="a3"/><rect x="3" width="2" height="9" class="a1"/><rect x="5" width="1" height="9" class="a2"/><rect x="6" width="2" height="9" class="a6"/><rect x="8" width="1" height="9" class="a9"/><rect x="9" width="1" height="9" class="a7"/><rect x="10" width="1" height="9" class="a6"/><rect x="11" width="1" height="9" class="a8"/><rect x="12" width="2" height="9" class="a4"/><rect x="14" width="1" height="9" class="a3"/><rect x="15" width="2" height="9" class="a2"/><rect x="17" width="2" height="9" class="a1"/><rect x="19" width="1" height="9" class="a2"/></g></g>
<g id="t128"><text x="459" y="4611.5" class="cor">MYC3_SRX6460105(MYC3_JA_2hr_ChIPseq_rep1)</text><path class="cor" transform="translate(118,4614) scale(34.1,1)" d="M0 51V0H1V5H2V0H3V5H4V27H7V22H8V33H9V38H10V49H11V38H12V22H14V16H16V0H18V11H19V0H20V51Z"/></g>
<g id="t129"><text x="459" y="4671.5" class="cor">MYC3_SRX6460106(MYC3_JA_2hr_ChIPseq_rep2)</text><g transform="translate(118,4674) scale(34.1,1)"><rect x="0" width="1" height="9" class="a8"/><rect x="1" width="1" height="9" class="a9"/><rect x="2" width="1" height="9" class="a6"/><rect x="3" width="1" height="9" class="a7"/><rect x="4" width="3" height="9" class="a4"/><rect x="7" width="1" height="9" class="a6"/><rect x="8" width="1" height="9" class="a4"/><rect x="9" width="1" height="9" class="a3"/><rect x="10" width="1" height="9" class="a4"/><rect x="11" width="1" height="9" class="a1"/><rect x="12" width="1" height="9" class="a3"/><rect x="13" width="2" height="9" class="a1"/><rect x="15" width="1" height="9" class="a2"/><rect x="16" width="1" height="9" class="a1"/><rect x="17" width="1" height="9" class="a3"/><rect x="18" width="1" height="9" class="a2"/><rect x="19" width="1" height="9" class="a1"/></g></g>
<g id="t130"><text x="459" y="4690.5" class="cor">MYC3_SRX6460107(MYC3_JA_2hr_ChIPseq_rep3)</text><path class="cor" transform="translate(118,4693) scale(34.1,1)" d="M0 51V48H1V43H2V49H3V39H4V37H5V32H6V25H8V10H10V15H11V20H12V3H13V1H15V0H17V5H18V3H19V5H20V51Z"/></g>
<g id="t131"><text x="459" y="4750.5" class="cor">PHE1_SRX5676333(silique.gfp.wt_rep1)</text><path class="cor" transform="translate(118,4753) scale(34.1,1)" d="M0 51V49.5H2V45H3V31H4V36H5V22H8V13H9V9H10V0H11V4H12V9H13V4H14V0H16V13H20V51Z"/></g>
<g id="t132"><text x="459" y="4810.5" class="cor">PHE1_SRX5676335(silique.gfp.wt_rep2)</text><g transform="translate(118,4813) scale(34.1,1)"><rect x="0" width="1" height="9" class="a2"/><rect x="1" width="1" height="9" class="a1"/><rect x="2" width="3" height="9" class="a3"/><rect x="5" width="1" height="9" class="a6"/><rect x="6" width="2" height="9" class="a3"/><rect x="8" width="1" height="9" class="a5"/><rect x="9" width="1" height="9" class="a4"/><rect x="10" width="1" height="9" class="a6"/><rect x="11" width="4" height="9" class="a5"/><rect x="15" width="1" height="9" class="a6"/><rect x="16" width="2" height="9" class="a9"/><rect x="18" width="1" height="9" class="a8"/><rect x="19" width="1" height="9" class="a6"/></g></g>
<g id="t133"><text x="459" y="4829.5" class="cor">PIF7_SRX5454258(PIF7::PIF7-MYC (D108)_ZT12_27C)</text><path class="cor" transform="translate(118,4832) scale(34.1,1)" d="M0 51V0H2V9H3V6H4V9H5V13H10V16H13V29H14V33H15V36H17V46H19V49.5H20V51Z"/></g>
<g id="t134"><text x="459" y="4889.5" class="cor">PIF7_SRX5454260(PIF7::PIF7-MYC (D108)_ZT8_27C)</text><g transform="translate(118,4892) scale(34.1,1)"><rect x="0" width="2" height="9" class="a9"/><rect x="2" width="1" height="9" class="a7"/><rect x="3" width="1" height="9" class="a5"/><rect x="4" width="2" height="9" class="a4"/><rect x="6" width="1" height="9" class="a9"/><rect x="7" width="2" height="9" class="a7"/><rect x="9" width="1" height="9" class="a5"/><rect x="10" width="2" height="9" class="a7"/><rect x="12" width="2" height="9" class="a5"/><rect x="14" width="1" height="9" class="a4"/><rect x="15" width="2" height="9" class="a2"/><rect x="17" width="3" height="9" class="a1"/></g></g>
<g id="t135"><text x="459" y="4908.5" class="cor">PIF7_SRX5454262(PIF7::PIF7-MYC (D108)_ZT12_27C)</text><path class="cor" transform="translate(118,4911) scale(34.1,1)" d="M0 51V6H1V13H2V28H3V6H6V0H8V13H10V28H11V42H12V35H14V49.5H15V42H19V35H20V51Z"/></g>
<g id="t136"><text x="459" y="4968.5" class="cor">RBR1_SRX3531272(RBR1_ChIP_rep1)</text><g transform="translate(118,4971) scale(34.1,1)"><rect x="0" width="1" height="9" class="a2"/><rect x="1" width="1" height="9" class="a3"/><rect x="2" width="1" height="9" class="a2"/><rect x="3" width="2" height="9" class="a1"/><rect x="5" width="1" height="9" class="a2"/><rect x="6" width="1" height="9" class="a1"/><rect x="7" width="2" height="9" class="a2"/><rect x="9" width="2" height="9" class="a4"/><rect x="11" width="4" height="9" class="a6"/><rect x="15" width="1" height="9" class="a9"/><rect x="16" width="2" height="9" class="a8"/><rect x="18" width="2" height="9" class="a7"/></g></g>
<g id="t137"><text x="459" y="4987.5" class="cor">RBR1_SRX3531273(RBR1_ChIP_rep2)</text><g transform="translate(118,4990) scale(34.1,1)"><rect x="0" width="2" height="9" class="a3"/><rect x="2" width="1" height="9" class="a2"/><rect x="3" width="2" height="9" class="a3"/><rect x="5" width="4" height="9" class="a1"/><rect x="9" width="1" height="9" class="a2"/><rect x="10" width="2" height="9" class="a3"/><rect x="12" width="1" height="9" class="a4"/><rect x="13" width="1" height="9" class="a5"/><rect x="14" width="1" height="9" class="a6"/><rect x="15" width="1" height="9" class="a7"/><rect x="16" width="2" height="9" class="a9"/><rect x="18" width="1" height="9" class="a8"/><rect x="19" width="1" height="9" class="a7"/></g></g>
<g id="t138"><text x="459" y="5006.5" class="cor">SE_ERX2858751(Arabidopsis Col-0 WT seedlings biorep1)</text><path class="cor" transform="translate(118,5009) scale(34.1,1)" d="M0 51V0H4V13H5V28H7V40H15V49.5H18V35H19V37H20V51Z"/></g>
<g id="t139"><text x="459" y="5066.5" class="cor">SE_ERX2858752(Arabidopsis Col-0 WT seedlings biorep1)</text><path class="cor" transform="translate(118,5069) scale(34.1,1)" d="M0 51V0H4V13H5V28H7V40H15V49.5H18V35H19V37H20V51Z"/></g>
<g id="t140"><text x="459" y="5126.5" class="cor">SE_ERX2858753(Arabidopsis Col-0 WT seedlings biorep1)</text><g transform="translate(118,5129) scale(34.1,1)"><rect x="0" width="3" height="9" class="a6"/><rect x="3" width="1" height="9" class="a9"/><rect x="4" width="1" height="9" class="a3"/><rect x="5" width="2" height="9" class="a6"/><rect x="7" width="1" height="9" class="a1"/><rect x="8" width="2" height="9" class="a3"/><rect x="10" width="4" height="9" class="a1"/><rect x="14" width="1" height="9" class="a4"/><rect x="15" width="4" height="9" class="a1"/><rect x="19" width="1" height="9" class="a4"/></g></g>
<g id="t141"><text x="459" y="5145.5" class="cor">SHL_SRX3226098(SHL ChIPSeq-1)</text><g transform="translate(118,5148) scale(34.1,1)"><rect x="3" width="17" height="9" class="a9"/></g></g>
<g id="t142"><text x="459" y="5164.5" class="cor">SHL_SRX3226099(SHL ChIPSeq-2)</text><g transform="translate(118,5167) scale(34.1,1)"><rect x="0" width="4" height="9" class="a9"/></g></g>
<g id="t143"><text x="459" y="5183.5" class="cor">SMXL6_SRX7187013(s678 SMXL6HA_ChIPSeq_Rep1)</text><path class="cor" transform="translate(118,5186) scale(34.1,1)" d="M0 51V22H3V33H4V38H6V44H7V49H8V38H11V27H12V22H13V11H15V16H17V11H18V0H19V11H20V51Z"/></g>
<g id="t144"><text x="459" y="5243.5" class="cor">SMXL6_SRX7187015(s678 SMXL6HA_ChIPSeq_Rep2)</text><g transform="translate(118,5246) scale(34.1,1)"><rect x="0" width="2" height="9" class="a1"/><rect x="2" width="1" height="9" class="a2"/><rect x="3" width="3" height="9" class="a3"/><rect x="6" width="3" height="9" class="a4"/><rect x="9" width="1" height="9" class="a3"/><rect x="10" width="2" height="9" class="a4"/><rect x="12" width="1" height="9" class="a5"/><rect x="13" width="1" height="9" class="a6"/><rect x="14" width="1" height="9" class="a5"/><rect x="15" width="1" height="9" class="a4"/><rect x="16" width="2" height="9" class="a6"/><rect x="18" width="2" height="9" class="a9"/></g></g>
<g id="t145"><text x="459" y="5262.5" class="cor">SOB3_SRX5001348(SOB3-GFP ChIP replicate 1)</text><g transform="translate(118,5265) scale(34.1,1)"><rect x="0" width="1" height="9" class="a1"/><rect x="1" width="1" height="9" class="a2"/><rect x="2" width="1" height="9" class="a3"/><rect x="3" width="3" height="9" class="a4"/><rect x="6" width="2" height="9" class="a6"/><rect x="8" width="1" height="9" class="a4"/><rect x="9" width="3" height="9" class="a6"/><rect x="12" width="1" height="9" class="a8"/><rect x="13" width="1" height="9" class="a9"/><rect x="14" width="1" height="9" class="a7"/><rect x="15" width="1" height="9" class="a6"/><rect x="16" width="2" height="9" class="a4"/><rect x="18" width="1" height="9" class="a6"/><rect x="19" width="1" height="9" class="a4"/></g></g>
<g id="t146"><text x="459" y="5281.5" class="cor">SOB3_SRX5001349(SOB3-GFP ChIP replicate 2)</text><path class="cor" transform="translate(118,5284) scale(34.1,1)" d="M0 51V0H1V12H2V6H3V18H4V25H6V31H7V25H8V18H9V12H11V25H12V31H16V43H17V49H18V43H19V37H20V51Z"/></g>
<g id="t147"><text x="459" y="5341.5" class="cor">SOG1_SRX3866936(IP_SOG1-3xFLAG_20min)</text><g transform="translate(118,5344) scale(34.1,1)"><rect x="0" width="1" height="9" class="a2"/><rect x="1" width="1" height="9" class="a1"/><rect x="2" width="2" height="9" class="a3"/><rect x="4" width="2" height="9" class="a4"/><rect x="6" width="1" height="9" class="a3"/><rect x="7" width="5" height="9" class="a1"/><rect x="12" width="1" height="9" class="a3"/><rect x="13" width="1" height="9" class="a4"/><rect x="14" width="1" height="9" class="a6"/><rect x="15" width="2" height="9" class="a7"/><rect x="17" width="1" height="9" class="a8"/><rect x="18" width="1" height="9" class="a9"/><rect x="19" width="1" height="9" class="a8"/></g></g>
<g id="t148"><text x="459" y="5360.5" class="cor">SOG1_SRX3866937(IP_SOG1-3xFLAG_1h)</text><g transform="translate(118,5363) scale(34.1,1)"><rect x="0" width="1" height="9" class="a3"/><rect x="1" width="2" height="9" class="a1"/><rect x="3" width="1" height="9" class="a2"/><rect x="4" width="1" height="9" class="a1"/><rect x="5" width="1" height="9" class="a2"/><rect x="6" width="1" height="9" class="a6"/><rect x="7" width="2" height="9" class="a9"/><rect x="9" width="1" height="9" class="a7"/><rect x="10" width="3" height="9" class="a6"/><rect x="13" width="2" height="9" class="a4"/><rect x="15" width="2" height="9" class="a6"/><rect x="17" width="1" height="9" class="a7"/><rect x="18" width="1" height="9" class="a6"/><rect x="19" width="1" height="9" class="a2"/></g></g>
<g id="t149"><text x="459" y="5379.5" class="cor">SPL7-SRX250135 (SRX250135: FLAG-SPL7 ChIP-seq)</text><g transform="translate(118,5382) scale(34.1,1)"><rect x="0" width="7" height="9" class="a9"/></g></g>
<g id="t150"><text x="459" y="5398.5" class="cor">SPT6L_SRX5169086(SPT6L-GFP IP rep1)</text><path class="cor" transform="translate(118,5401) scale(34.1,1)" d="M0 51V0H4V10H5V22H7V34H9V27H10V34H12V40H14V44H15V49.5H16V34H17V27H18V22H19V17H20V51Z"/></g>
<g id="t151"><text x="459" y="5458.5" class="cor">SPT6L_SRX5169087(SPT6L-GFP IP rep2)</text><g transform="translate(118,5461) scale(34.1,1)"><rect x="0" width="1" height="9" class="a8"/><rect x="1" width="1" height="9" class="a9"/><rect x="2" width="1" height="9" class="a8"/><rect x="3" width="1" height="9" class="a7"/><rect x="4" width="1" height="9" class="a4"/><rect x="5" width="2" height="9" class="a3"/><rect x="7" width="3" height="9" class="a2"/><rect x="10" width="2" height="9" class="a1"/><rect x="12" width="1" height="9" class="a2"/><rect x="13" width="2" height="9" class="a1"/><rect x="15" width="1" height="9" class="a3"/><rect x="16" width="1" height="9" class="a4"/><rect x="17" width="1" height="9" class="a6"/><rect x="18" width="2" height="9" class="a7"/></g></g>
<g id="t152"><text x="459" y="5477.5" class="cor">STZ_SRX6460108(STZ_AIR_ChIPseq_rep1)</text><g transform="translate(118,5480) scale(34.1,1)"><rect x="0" width="1" height="9" class="a9"/><rect x="1" width="4" height="9" class="a8"/><rect x="5" width="1" height="9" class="a7"/><rect x="6" width="1" height="9" class="a8"/><rect x="7" width="3" height="9" class="a6"/><rect x="10" width="2" height="9" class="a4"/><rect x="12" width="1" height="9" class="a2"/><rect x="13" width="7" height="9" class="a1"/></g></g>
<g id="t153"><text x="459" y="5496.5" class="cor">STZ_SRX6460109(STZ_AIR_ChIPseq_rep2)</text><path class="cor" transform="translate(118,5499) scale(34.1,1)" d="M0 51V34H1V17H2V28H3V34H4V44H5V49.5H6V44H7V28H8V34H9V12H10V23H11V28H12V44H14V49.5H15V34H16V0H17V7H19V12H20V51Z"/></g>
<g id="t154"><text x="459" y="5556.5" class="cor">STZ_SRX6460110(STZ_AIR_ChIPseq_rep3)</text><g transform="translate(118,5559) scale(34.1,1)"><rect x="0" width="2" height="9" class="a3"/><rect x="2" width="1" height="9" class="a7"/><rect x="3" width="1" height="9" class="a9"/><rect x="4" width="1" height="9" class="a5"/><rect x="5" width="1" height="9" class="a3"/><rect x="6" width="2" height="9" class="a5"/><rect x="8" width="4" height="9" class="a6"/><rect x="12" width="6" height="9" class="a1"/><rect x="18" width="2" height="9" class="a4"/></g></g>
<g id="t155"><text x="459" y="5575.5" class="cor">STZ_SRX6460111(STZ_JA_2hr_ChIPseq_rep1)</text><g transform="translate(118,5578) scale(34.1,1)"><rect x="0" width="1" height="9" class="a7"/><rect x="1" width="1" height="9" class="a8"/><rect x="2" width="1" height="9" class="a9"/><rect x="3" width="1" height="9" class="a7"/><rect x="4" width="1" height="9" class="a6"/><rect x="5" width="1" height="9" class="a8"/><rect x="6" width="2" height="9" class="a7"/><rect x="8" width="1" height="9" class="a5"/><rect x="9" width="3" height="9" class="a4"/><rect x="12" width="1" height="9" class="a3"/><rect x="13" width="1" height="9" class="a4"/><rect x="14" width="1" height="9" class="a1"/><rect x="15" width="1" height="9" class="a4"/><rect x="16" width="3" height="9" class="a1"/><rect x="19" width="1" height="9" class="a4"/></g></g>
<g id="t156"><text x="459" y="5594.5" class="cor">TCP4_SRX4168241(mTCP4_ChIP)</text><g transform="translate(118,5597) scale(34.1,1)"><rect x="0" width="5" height="9" class="a9"/><rect x="5" width="8" height="9" class="a4"/><rect x="13" width="3" height="9" class="a5"/><rect x="16" width="3" height="9" class="a4"/><rect x="19" width="1" height="9" class="a1"/></g></g>
<g id="t157"><text x="459" y="5613.5" class="cor">TFL1_ERX2826885(gTFL1-1xVenus_biorep1)</text><g transform="translate(118,5616) scale(34.1,1)"><rect x="0" width="2" height="9" class="a1"/><rect x="2" width="2" height="9" class="a2"/><rect x="4" width="2" height="9" class="a4"/><rect x="6" width="1" height="9" class="a5"/><rect x="7" width="1" height="9" class="a7"/><rect x="8" width="1" height="9" class="a8"/><rect x="9" width="3" height="9" class="a9"/><rect x="12" width="2" height="9" class="a7"/><rect x="14" width="1" height="9" class="a6"/><rect x="15" width="1" height="9" class="a5"/><rect x="16" width="2" height="9" class="a7"/><rect x="18" width="1" height="9" class="a8"/><rect x="19" width="1" height="9" class="a7"/></g></g>
<g id="t158"><text x="459" y="5632.5" class="cor">TFL1_ERX2826887(gTFL1-1xVenus_biorep3)</text><g transform="translate(118,5635) scale(34.1,1)"><rect x="0" width="1" height="9" class="a2"/><rect x="1" width="5" height="9" class="a4"/><rect x="6" width="2" height="9" class="a7"/><rect x="8" width="3" height="9" class="a9"/><rect x="11" width="3" height="9" class="a7"/><rect x="14" width="2" height="9" class="a4"/><rect x="16" width="1" height="9" class="a2"/><rect x="17" width="3" height="9" class="a1"/></g></g>
</svg>
